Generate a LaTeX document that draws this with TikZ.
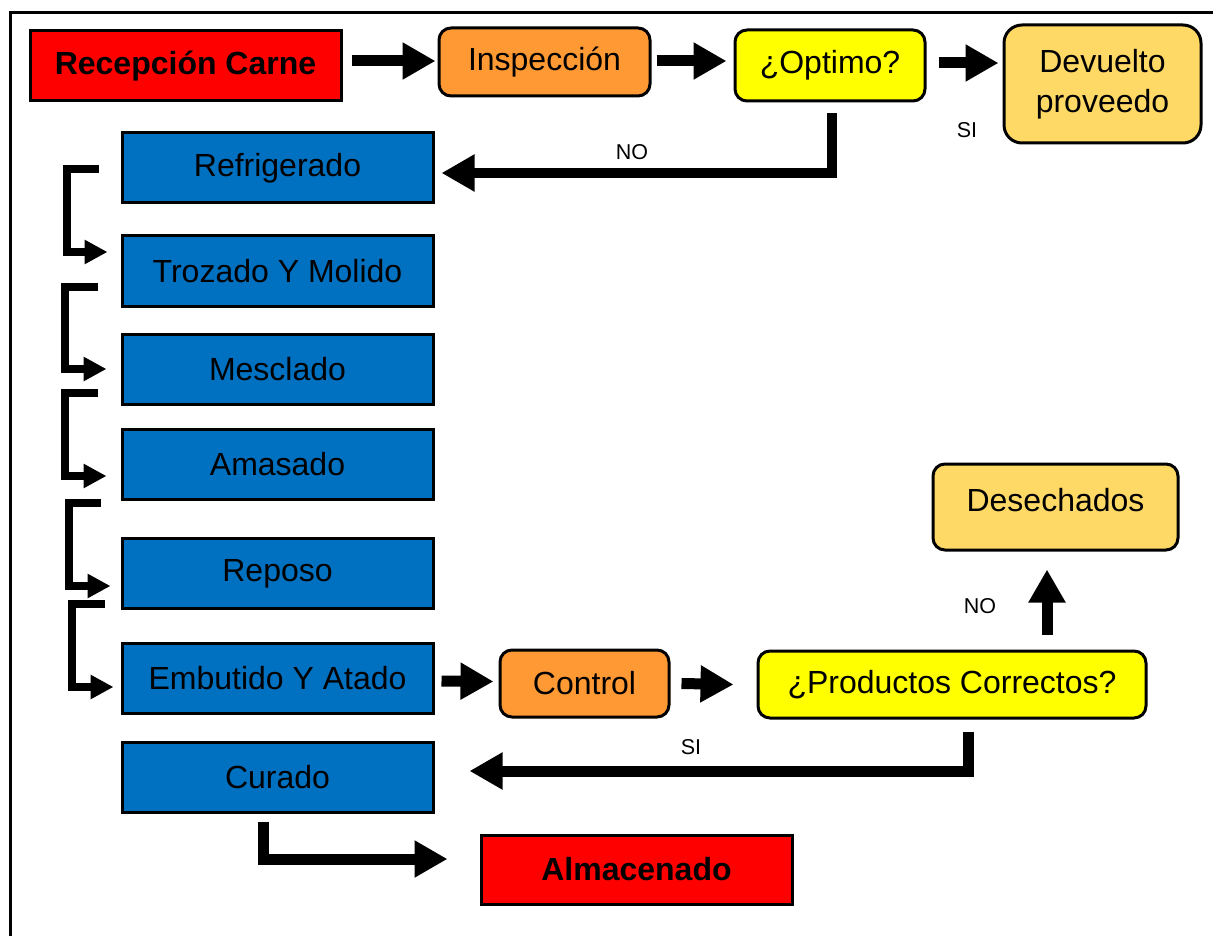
\documentclass[tikz,border=0pt]{standalone}
\usepackage{fontspec}
\setmainfont{Liberation Sans}
\usetikzlibrary{arrows.meta}
\definecolor{rojo}{HTML}{FF0000}
\definecolor{naranja}{HTML}{FF9933}
\definecolor{amarillo}{HTML}{FFFF00}
\definecolor{crema}{HTML}{FFD966}
\definecolor{azulc}{HTML}{0070C0}
\begin{document}
\begin{tikzpicture}[x=1pt,y=-1pt,
  caja/.style={draw,line width=3pt,inner sep=0pt,align=center,font=\fontsize{32}{40}\selectfont},
  rojocaja/.style={caja,fill=rojo,font=\fontsize{32}{40}\selectfont\bfseries},
  azulcaja/.style={caja,fill=azulc,minimum width=311pt,minimum height=70pt},
  redonda/.style={caja,rounded corners=12pt},
  etiqueta/.style={font=\fontsize{21.5}{24}\selectfont},
  flecha/.style={line width=11pt,-{Triangle[length=33pt,width=35pt]}},
  flechita/.style={line width=8pt,-{Triangle[length=23pt,width=23pt]}}]
\useasboundingbox (0,0) rectangle (1213,936);
\draw[line width=3pt] (10,936) -- (10,13) -- (1213,13);
% fila de arriba
\node[rojocaja,minimum width=311pt,minimum height=70pt] (rec) at (185.5,66) {Recepción Carne};
\node[redonda,fill=naranja,minimum width=211pt,minimum height=68pt] (insp) at (544.5,62) {Inspección};
\node[redonda,fill=amarillo,minimum width=190pt,minimum height=71pt] (opt) at (830,65.5) {¿Optimo?};
\node[redonda,fill=crema,minimum width=197pt,minimum height=118pt,rounded corners=18pt] (dev) at (1102.5,84) {Devuelto\\proveedo};
% proceso
\node[azulcaja] (refr) at (277.5,168) {Refrigerado};
\node[azulcaja] (troz) at (277.5,271) {Trozado Y Molido};
\node[azulcaja] (mesc) at (277.5,369) {Mesclado};
\node[azulcaja] (amas) at (277.5,464.5) {Amasado};
\node[azulcaja] (repo) at (277.5,573.5) {Reposo};
\node[azulcaja] (emb) at (277.5,678) {Embutido Y Atado};
\node[azulcaja] (cur) at (277.5,777) {Curado};
\node[redonda,fill=naranja,minimum width=169pt,minimum height=67pt] (ctrl) at (584.5,683.5) {Control};
\node[redonda,fill=amarillo,minimum width=388pt,minimum height=67pt] (prod) at (952,684.5) {¿Productos Correctos?};
\node[redonda,fill=crema,minimum width=245pt,text height=47pt,text depth=39pt] (des) at (1055.5,507) {Desechados};
\node[rojocaja,minimum width=311pt,minimum height=69pt] (alm) at (636.5,869.5) {Almacenado};
% etiquetas
\node[etiqueta] (si1) at (967,130) {SI};
\node[etiqueta] (no1) at (632,152) {NO};
\node[etiqueta] (no2) at (980,606) {NO};
\node[etiqueta] (si2) at (691,747) {SI};
% flechas
\draw[flecha] ([xshift=9pt,yshift=5pt]rec.east) -- ([xshift=-2pt,yshift=1pt]insp.west);
\draw[flecha] ([xshift=5pt,yshift=1pt]insp.east) -- ([xshift=-7pt,yshift=4.5pt]opt.west);
\draw[flecha] ([xshift=12pt,yshift=2.5pt]opt.east) -- ([xshift=-4pt,yshift=21pt]dev.west);
\draw[flecha,line width=10pt] ([xshift=2pt,yshift=-11pt]opt.south) |- ([xshift=7pt,yshift=-5pt]refr.east);
\draw[flechita] ([xshift=-22pt,yshift=-1pt]refr.west) -- ++(-32,0) |- ([xshift=-13pt,yshift=19pt]troz.west);
\draw[flechita] ([xshift=-23pt,yshift=-16pt]troz.west) -- ++(-33,0) |- ([xshift=-14pt]mesc.west);
\draw[flechita] ([xshift=-23pt,yshift=-24pt]mesc.west) -- ++(-33,0) |- ([xshift=-14pt,yshift=-11.5pt]amas.west);
\draw[flechita] ([xshift=-20pt,yshift=-38.5pt]amas.west) -- ++(-32,0) |- ([xshift=-10pt,yshift=-12.5pt]repo.west);
\draw[flechita] ([xshift=-16pt,yshift=-30.5pt]repo.west) -- ++(-33,0) |- ([xshift=-7pt,yshift=-9pt]emb.west);
\draw[flecha] ([xshift=7pt,yshift=-3pt]emb.east) -- ([xshift=-5pt,yshift=2pt]ctrl.west);
\draw[flecha] ([xshift=11pt]ctrl.east) -- ([xshift=-23pt]prod.west);
\draw[flecha] ([xshift=95pt,yshift=15pt]prod.north) -- ([xshift=-8.5pt,yshift=-18pt]des.south);
\draw[flecha] ([xshift=16pt,yshift=-12pt]prod.south) |- ([xshift=35pt,yshift=6pt]cur.east);
\draw[flecha] ([xshift=-14.5pt,yshift=-8pt]cur.south) |- ([xshift=-32pt,yshift=10.5pt]alm.west);
\end{tikzpicture}
\end{document}
